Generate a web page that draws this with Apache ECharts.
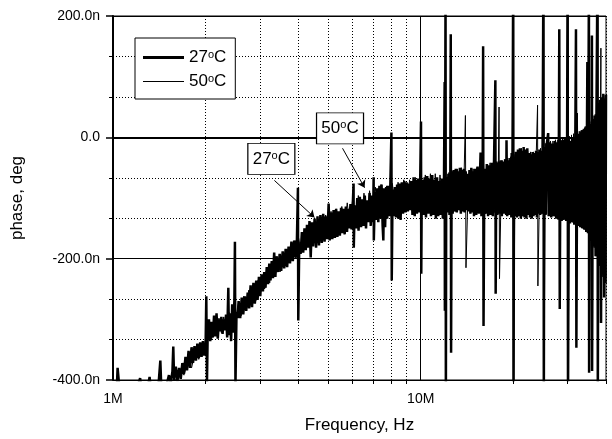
<!DOCTYPE html>
<html><head><meta charset="utf-8">
<script src="https://cdn.jsdelivr.net/npm/echarts@6/dist/echarts.min.js"></script>
<style>html,body{margin:0;padding:0;background:#fff}#c{width:612px;height:439px}</style>
</head><body><div id="c"></div>
<script>
const FONT = 'Liberation Sans, Arial, Helvetica, sans-serif';
const seriesNames = ['27°C', '50°C'];
const freqMajorTicks = [1, 10];                 // MHz
const freqMinorTicks = [2, 3, 4, 5, 6, 7, 8, 9, 20, 30, 40];
const freqRange = [1, 40];                      // MHz
const phaseRange = [-400, 200];                 // n-units
const phaseStep = 200;

// [frequency MHz, phase]
const data27 = [
[1.00,-425],[1.03,-408],[1.035,-380],[1.045,-380],[1.05,-415],[1.10,-430],[1.15,-418],[1.20,-412],[1.225,-397],[1.24,-420],
[1.30,-410],[1.315,-395],[1.33,-418],[1.36,-404],[1.40,-420],[1.425,-368],[1.435,-412],[1.48,-416],[1.52,-392],[1.54,-405],
[1.56,-386],[1.57,-345],[1.58,-400],[1.60,-378],[1.62,-402],[1.64,-380],[1.66,-398],[1.68,-372],[1.70,-390],[1.72,-362],
[1.74,-384],[1.76,-352],[1.78,-380],[1.80,-346],[1.82,-372],[1.84,-344],[1.86,-368],[1.88,-340],[1.90,-364],[1.92,-338],
[1.94,-362],[1.96,-336],[1.98,-360],[2.00,-340],[2.01,-262],[2.02,-405],[2.03,-330],
[2.05,-300],[2.07,-336],[2.09,-304],[2.11,-330],[2.13,-294],[2.15,-328],[2.17,-290],[2.19,-332],[2.21,-300],[2.23,-320],
[2.25,-296],[2.27,-324],[2.29,-300],[2.31,-318],[2.33,-292],[2.35,-330],[2.37,-248],[2.38,-326],[2.40,-290],[2.42,-336],
[2.44,-275],[2.46,-322],[2.48,-268],[2.49,-172],[2.50,-410],[2.52,-288],[2.54,-298],
[2.56,-270],[2.59,-298],[2.62,-264],[2.65,-292],[2.68,-262],[2.71,-286],[2.74,-256],[2.77,-282],[2.80,-244],[2.83,-280],
[2.86,-240],[2.89,-274],[2.92,-236],[2.95,-268],[2.98,-230],[3.01,-262],[3.04,-226],[3.07,-254],[3.10,-222],[3.13,-248],
[3.16,-214],[3.19,-242],[3.22,-208],[3.25,-236],[3.28,-204],[3.31,-232],[3.34,-190],[3.37,-230],[3.40,-196],[3.44,-222],
[3.48,-192],[3.52,-220],[3.56,-188],[3.60,-216],[3.64,-184],[3.68,-214],[3.72,-180],[3.76,-208],[3.80,-172],[3.84,-204],
[3.88,-170],[3.92,-198],[3.96,-168],[3.99,-83],[4.00,-302],[4.03,-175],
[4.07,-192],[4.11,-156],[4.15,-190],[4.19,-150],[4.23,-186],[4.27,-144],[4.31,-182],[4.35,-138],[4.39,-198],[4.43,-140],
[4.47,-180],[4.52,-134],[4.57,-182],[4.62,-130],[4.67,-178],[4.72,-128],[4.77,-174],[4.82,-126],[4.87,-172],[4.92,-130],
[4.97,-168],[5.02,-109],[5.06,-170],
[5.11,-124],[5.16,-168],[5.21,-120],[5.26,-166],[5.31,-118],[5.36,-164],[5.41,-122],[5.46,-162],[5.51,-116],[5.56,-158],
[5.61,-118],[5.66,-160],[5.71,-114],[5.76,-156],[5.81,-118],[5.86,-150],[5.91,-110],[5.96,-152],[6.02,-106],[6.05,-76],
[6.06,-182],[6.10,-112],[6.16,-150],[6.22,-100],[6.28,-154],[6.34,-98],[6.40,-148],[6.46,-102],[6.52,-146],[6.58,-96],
[6.64,-150],[6.70,-104],[6.76,-140],[6.82,-92],[6.88,-146],[6.94,-96],[7.00,-140],[7.03,-66],[7.04,-170],[7.10,-90],
[7.16,-136],[7.22,-84],[7.28,-140],[7.34,-80],[7.40,-134],[7.46,-78],[7.52,-146],[7.56,-170],[7.60,-84],[7.66,-148],
[7.72,-82],[7.78,-134],[7.84,-80],[7.90,-130],[7.96,-86],[8.03,8],[8.05,-236],[8.10,-86],[8.17,-130],[8.24,-82],
[8.31,-132],[8.38,-78],[8.45,-134],[8.52,-76],[8.60,-136],[8.68,-74],[8.76,-126],[8.84,-72],[8.92,-124],[9.00,-74],
[9.08,-122],[9.16,-76],[9.24,-120],[9.32,-72],[9.40,-128],[9.48,-66],[9.56,-130],[9.64,-70],[9.72,-126],[9.80,-68],
[9.88,-124],[9.96,-72],[10.02,26],[10.04,-225],[10.08,-76],
[10.1,-70],[10.2,-128],[10.3,-66],[10.4,-132],[10.5,-64],[10.6,-126],[10.7,-68],[10.8,-130],[10.9,-62],[11.0,-128],
[11.1,-70],[11.2,-134],[11.3,-66],[11.4,-130],[11.5,-72],[11.6,-128],[11.7,-68],[11.8,-134],[11.9,-74],[11.96,91],
[11.98,-286],[12.0,-70],[12.04,250],[12.07,-450],[12.1,-66],[12.2,-124],[12.3,-60],[12.4,-128],[12.48,-58],[12.52,170],
[12.55,-355],[12.6,-56],[12.7,-126],[12.8,-54],[12.9,-122],[13.0,-52],[13.1,-124],[13.2,-56],[13.3,-120],[13.4,-50],
[13.5,-126],[13.6,-54],[13.7,-122],[13.8,-52],[13.9,-124],[14.0,-56],[14.1,-120],[14.2,-60],[14.3,-122],[14.4,-54],
[14.5,-126],[14.6,-50],[14.7,-124],[14.8,-56],[14.9,-130],[15.0,-52],
[15.15,-128],[15.3,-48],[15.45,-126],[15.6,-50],[15.65,-25],[15.75,-130],[15.9,-46],[15.95,150],[16.0,-311],[16.1,-52],
[16.25,-126],[16.4,-44],[16.55,-130],[16.7,-46],[16.85,-128],[17.0,-42],[17.15,-130],[17.3,-44],[17.48,94],[17.52,-258],
[17.6,-42],[17.75,-128],[17.9,-40],[18.05,-126],[18.2,-38],[18.35,-130],[18.5,-40],[18.65,-126],[18.8,-36],[18.95,-128],
[19.0,-5],[19.1,-130],[19.25,-38],[19.4,-128],[19.55,-34],[19.7,-132],[19.75,-26],[19.85,-128],[19.98,300],[20.02,-450],
[20.1,-32],[20.25,-130],[20.4,-24],[20.55,-132],[20.7,-20],[20.85,-130],[21.0,-18],[21.15,-134],[21.3,-22],[21.45,-130],
[21.6,-16],[21.75,-132],[21.9,-20],[22.05,-134],[22.2,-18],[22.35,-128],[22.5,-26],[22.65,-132],[22.8,-28],[22.95,-134],
[23.1,-24],[23.25,-130],[23.4,-26],[23.55,-128],[23.7,-22],[23.85,-132],[24.0,-24],[24.15,-126],[24.3,-20],[24.45,-128],
[24.6,-22],[24.75,-126],[24.9,-18],[25.05,300],[25.12,-450],[25.2,-16],
[25.45,-128],[25.7,-10],[25.95,7],[26.05,-130],[26.3,-8],[26.55,-132],[26.8,-10],[27.05,-130],[27.3,-6],[27.55,-134],
[27.8,-8],[28.05,-136],[28.2,178],[28.3,-283],[28.45,-5],[28.7,-138],[28.95,-4],[29.2,-136],[29.45,-2],[29.7,-138],
[29.9,-4],[30.02,300],[30.1,-450],[30.3,0],[30.55,-142],[30.8,-6],[31.05,-140],[31.3,-2],[31.55,-144],[31.8,4],
[31.95,178],[32.05,-347],[32.25,2],[32.5,-146],[32.75,6],[33.0,-148],[33.25,10],[33.5,-150],[33.75,12],[34.0,-152],
[34.25,16],[34.5,-156],[34.8,124],[34.95,-158],[35.2,260],[35.25,-388],[35.45,22],[35.7,-162],[35.95,26],[36.0,168],
[36.05,-385],[36.25,30],[36.5,-180],[36.75,36],[37.0,-196],[37.25,44],[37.55,300],[37.62,-450],[37.8,56],[38.05,-210],
[38.3,62],[38.55,-306],[38.7,66],[38.95,-226],[39.2,72],[39.45,-264],[39.65,64],[39.85,-240],[40.0,70]
];

const data50 = [
[1.00,-430],[1.10,-420],[1.20,-425],[1.30,-415],[1.40,-418],[1.50,-410],[1.60,-400],[1.65,-385],[1.70,-392],[1.75,-370],
[1.80,-380],[1.85,-352],[1.90,-366],[1.95,-342],[2.00,-358],[2.05,-318],[2.09,-334],[2.13,-300],[2.17,-326],[2.21,-298],
[2.25,-322],[2.29,-296],[2.33,-316],[2.38,-288],[2.42,-318],[2.46,-282],[2.51,-300],[2.56,-272],[2.61,-294],[2.66,-262],
[2.71,-284],[2.76,-252],[2.81,-276],[2.86,-244],[2.91,-270],[2.96,-236],[3.01,-258],[3.06,-228],[3.11,-250],[3.17,-216],
[3.23,-240],[3.29,-206],[3.35,-228],[3.42,-198],[3.49,-222],[3.56,-190],[3.63,-212],[3.70,-184],[3.77,-206],[3.85,-176],
[3.93,-200],[4.01,-166],[4.09,-190],[4.17,-158],[4.25,-184],[4.34,-146],[4.43,-176],[4.52,-138],[4.61,-172],[4.71,-132],
[4.81,-166],[4.91,-128],[5.01,-160],[5.11,-122],[5.21,-160],[5.32,-118],[5.43,-156],[5.54,-114],[5.65,-152],[5.77,-108],
[5.89,-148],[6.01,-102],[6.14,-146],[6.27,-96],[6.40,-140],[6.54,-92],[6.68,-138],[6.82,-88],[6.97,-134],[7.12,-82],
[7.27,-132],[7.43,-78],[7.59,-130],[7.75,-80],[7.92,-128],[8.09,-76],[8.26,-124],[8.44,-74],[8.62,-122],[8.81,-70],
[9.00,-120],[9.20,-70],[9.40,-118],[9.60,-66],[9.81,-120],[10.0,-64],[10.15,-124],[10.35,-62],[10.55,-122],[10.75,-60],
[10.95,-124],[11.15,-60],[11.35,-126],[11.55,-62],[11.75,-120],[11.95,-64],[12.15,-122],[12.35,-58],[12.55,-118],[12.75,-56],
[12.95,-122],[13.15,-52],[13.35,-120],[13.55,-50],[13.75,-122],[13.97,36],[14.03,-215],[14.2,-118],[14.4,-54],[14.6,-120],
[14.8,-52],[15.0,-118],[15.2,-50],[15.4,-122],[15.6,-48],[15.8,-124],[16.0,-46],[16.2,-126],[16.4,-44],[16.6,-124],
[16.8,-42],[17.0,-126],[17.2,-42],[17.4,-124],[17.6,-40],[17.8,-126],[17.97,50],[18.03,-233],[18.2,-122],[18.4,-38],
[18.6,-124],[18.8,-36],[19.0,-126],[19.2,-34],[19.4,-126],[19.6,-32],[19.8,-128],[19.99,300],[20.03,-450],[20.25,-28],
[20.5,-126],[20.75,-22],[21.0,-128],[21.25,-18],[21.5,-130],[21.75,-20],[22.0,-130],[22.25,-22],[22.5,-128],[22.75,-24],
[23.0,-128],[23.25,-24],[23.5,-126],[23.75,-22],[23.97,53],[24.03,-245],[24.25,-124],[24.5,-18],[24.75,-126],[25.07,300],
[25.14,-450],[25.4,-10],[25.65,-126],[25.9,-8],[26.15,-128],[26.4,-6],[26.65,-130],[26.9,-6],[27.15,-130],[27.4,-4],
[27.65,-132],[27.9,-4],[28.15,-134],[28.4,-2],[28.65,-134],[28.9,0],[29.15,-136],[29.4,0],[29.65,-136],[29.9,2],
[30.05,300],[30.12,-450],[30.4,2],[30.65,-138],[30.9,4],[31.15,-140],[31.4,6],[31.65,-142],[31.9,8],[32.1,-144],
[32.3,40],[32.5,-146],[32.75,10],[33.0,-148],[33.25,12],[33.5,-150],[33.75,14],[34.0,-152],[34.25,18],[34.5,-154],
[34.8,124],[34.95,-156],[35.3,22],[35.55,-160],[35.8,26],[36.1,-170],[36.35,30],[36.6,-182],[36.9,38],[37.15,-196],
[37.35,46],[37.58,300],[37.65,-450],[37.9,56],[38.15,-212],[38.4,60],[38.5,147],[38.6,-306],[38.8,62],[39.05,-230],
[39.3,66],[39.55,-246],[39.8,68],[40.0,-230]
];

// callout boxes and arrows, in data coordinates [MHz, phase]
const annotations = [
  { text: '27°C', box: [3.27, -35.5], from: [3.345, -71], to: [4.516, -132] },
  { text: '50°C', box: [5.467, 14.9], from: [5.57, -18], to: [6.57, -83] }
];

const sup = s => s.replace('°C', '{s|o}C');
const richSup = { s: { fontSize: 11, verticalAlign: 'top', lineHeight: 6, fontFamily: FONT, color: '#000' } };

const chart = echarts.init(document.getElementById('c'), null, { renderer: 'canvas' });
const dotted = { type: [1, 2], color: '#000', width: 1 };

chart.setOption({
  animation: false,
  backgroundColor: '#fff',
  textStyle: { fontFamily: FONT, color: '#000' },
  grid: { left: 113, right: 6, top: 16, bottom: 59, show: true, borderColor: '#000', borderWidth: 1, backgroundColor: 'transparent' },
  legend: {
    orient: 'vertical', left: 135, top: 38,
    padding: [11, 9, 9, 8], itemGap: 7, itemWidth: 41, itemHeight: 18,
    backgroundColor: '#fff', borderColor: '#000', borderWidth: 1, borderRadius: 0,
    data: [
      { name: seriesNames[0], icon: 'path://M0,0H41V3H0Z', itemStyle: { color: '#000', borderWidth: 0 } },
      { name: seriesNames[1], icon: 'path://M0,0H41V1H0Z', itemStyle: { color: '#000', borderWidth: 0 } }
    ],
    formatter: sup,
    textStyle: { fontSize: 17, fontFamily: FONT, color: '#000', rich: richSup },
    selectedMode: false
  },
  xAxis: [
    {
      type: 'log', logBase: 10, min: freqRange[0], max: freqRange[1], position: 'bottom',
      name: 'Frequency, Hz', nameLocation: 'middle', nameGap: 37,
      nameTextStyle: { fontSize: 17, fontFamily: FONT, color: '#000' },
      axisLine: { show: true, lineStyle: { color: '#000', width: 2 } },
      axisTick: { show: true, length: 7, customValues: freqMajorTicks, lineStyle: { color: '#000', width: 1.5 } },
      axisLabel: { show: true, customValues: freqMajorTicks, margin: 12, fontSize: 14, fontFamily: FONT, color: '#000',
        formatter: v => Math.round(v) + 'M' },
      splitLine: { show: true, lineStyle: { color: '#000', width: 1 } },
      minorTick: { show: false }
    },
    {
      type: 'log', logBase: 10, min: freqRange[0], max: freqRange[1], position: 'bottom',
      axisLine: { show: false },
      axisTick: { show: true, length: 4, customValues: freqMinorTicks, lineStyle: { color: '#000', width: 1 } },
      axisLabel: { show: false },
      splitLine: { show: true, lineStyle: dotted }
    }
  ],
  yAxis: {
    type: 'value', min: phaseRange[0], max: phaseRange[1], interval: phaseStep,
    name: 'phase, deg', nameLocation: 'middle', nameGap: 87,
    nameTextStyle: { fontSize: 17, fontFamily: FONT, color: '#000' },
    axisLine: { show: true, lineStyle: { color: '#000', width: 2 } },
    axisTick: { show: true, length: 7, lineStyle: { color: '#000', width: 1.5 } },
    minorTick: { show: true, splitNumber: 3, length: 4, lineStyle: { color: '#000', width: 1 } },
    axisLabel: { margin: 13, fontSize: 14, fontFamily: FONT, color: '#000',
      formatter: v => v === 0 ? '0.0' : v.toFixed(1) + 'n' },
    splitLine: { show: true, lineStyle: { color: '#000', width: 1 } },
    minorSplitLine: { show: true, lineStyle: dotted }
  },
  series: [
    {
      name: seriesNames[0], type: 'line', xAxisIndex: 0, data: data27, symbol: 'none', clip: true,
      lineStyle: { color: '#000', width: 2.5 }, itemStyle: { color: '#000' }, z: 3,
      markLine: {
        silent: true, symbol: ['none', 'arrow'], symbolSize: 7,
        label: { show: false }, lineStyle: { color: '#000', width: 1, type: 'solid' },
        emphasis: { disabled: true },
        data: annotations.map(a => [{ coord: a.from }, { coord: a.to }])
      },
      markPoint: {
        silent: true, symbol: 'rect', symbolSize: [47, 31],
        itemStyle: { color: '#fff', borderColor: '#000', borderWidth: 1 },
        label: { show: true, position: 'inside', fontSize: 17, fontFamily: FONT, color: '#000', rich: richSup },
        emphasis: { disabled: true },
        data: annotations.map(a => ({ coord: a.box, label: { formatter: sup(a.text) } }))
      }
    },
    {
      name: seriesNames[1], type: 'line', xAxisIndex: 0, data: data50, symbol: 'none', clip: true,
      lineStyle: { color: '#000', width: 1 }, itemStyle: { color: '#000' }, z: 2
    }
  ]
});
</script></body></html>
